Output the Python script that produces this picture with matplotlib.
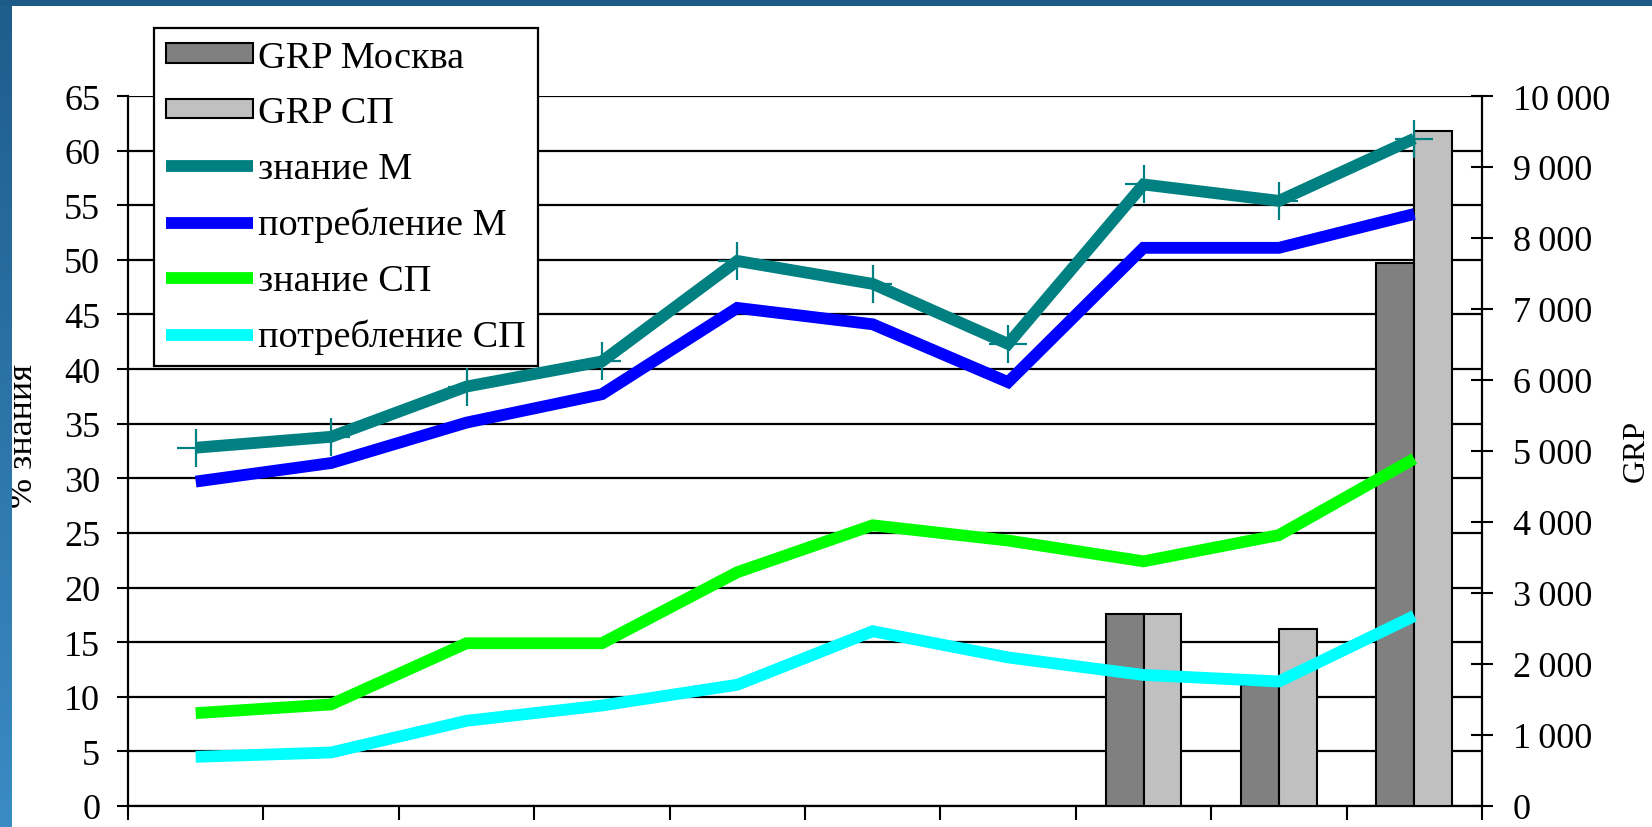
import numpy as np
import matplotlib
matplotlib.use("Agg")
import matplotlib.pyplot as plt
from matplotlib.patches import Patch
from matplotlib.lines import Line2D
from matplotlib.colors import LinearSegmentedColormap

# ---- data ----
periods = list(range(1, 11))
znanie_M = [32.8, 33.8, 38.4, 40.7, 49.9, 47.8, 42.3, 56.9, 55.4, 61.1]
potreb_M = [29.7, 31.4, 35.1, 37.7, 45.6, 44.1, 38.8, 51.1, 51.1, 54.2]
znanie_SP = [8.5, 9.3, 14.9, 14.9, 21.4, 25.7, 24.3, 22.4, 24.8, 31.8]
potreb_SP = [4.5, 4.9, 7.8, 9.2, 11.1, 16.0, 13.6, 12.0, 11.4, 17.4]
grp_M = [np.nan] * 7 + [2700, 1700, 7650]
grp_SP = [np.nan] * 7 + [2700, 2500, 9510]
left_ticks = list(range(0, 70, 5))
right_ticks = list(range(0, 11000, 1000))

series_labels = ["GRP Москва", "GRP СП", "знание М", "потребление М", "знание СП", "потребление СП"]

SERIF = ["Liberation Serif", "DejaVu Serif"]
plt.rcParams["font.family"] = SERIF

W, H = 1652, 828
fig = plt.figure(figsize=(W / 100, H / 100), dpi=100)
fig.patch.set_facecolor("white")

x0, x1, ytop, ybot = 128, 1482, 97, 807
pos = [x0 / W, 1 - ybot / H, (x1 - x0) / W, (ybot - ytop) / H]

ax = fig.add_axes(pos)              # gridlines + left axis
ax2 = ax.twinx()                     # bars, right axis
ax3 = ax.twinx()                     # lines, left scale
for a in (ax2, ax3):
    a.patch.set_visible(False)
ax.set_zorder(0)
ax2.set_zorder(1)
ax3.set_zorder(2)

x = np.arange(len(periods))
n = len(periods)

# left axis
ax.set_ylim(0, 65)
ax.set_xlim(-0.5, n - 0.5)
ax.set_yticks(left_ticks)
ax.set_yticklabels([str(v) for v in left_ticks], fontsize=26)
ax.yaxis.grid(True, color="black", lw=1.6)
ax.set_axisbelow(True)
ax.tick_params(axis="y", direction="out", length=8, width=1.5, pad=12, colors="black")
ax.set_xticks(np.arange(n + 1) - 0.5)
ax.set_xticklabels([])
ax.tick_params(axis="x", direction="out", length=10, width=1.5)
for s in ("top", "right"):
    ax.spines[s].set_visible(False)
for s in ("left", "bottom"):
    ax.spines[s].set_linewidth(1.6)

# bars
bw = 0.28
gm = np.array(grp_M, dtype=float)
gs = np.array(grp_SP, dtype=float)
mm = ~np.isnan(gm)
ms = ~np.isnan(gs)
ax2.bar(x[mm] - bw / 2, gm[mm], width=bw, color="#808080", edgecolor="black", linewidth=1.5)
ax2.bar(x[ms] + bw / 2, gs[ms], width=bw, color="#c0c0c0", edgecolor="black", linewidth=1.5)
ax2.set_ylim(0, 10000)
ax2.set_xlim(-0.5, n - 0.5)
ax2.set_yticks(right_ticks)
ax2.set_yticklabels([f"{v:,}".replace(",", "\u2009") for v in right_ticks], fontsize=26)
ax2.tick_params(axis="y", direction="inout", length=16, width=1.5, pad=14, colors="black")
for s in ("top", "left", "bottom"):
    ax2.spines[s].set_visible(False)
ax2.spines["right"].set_linewidth(1.6)

# lines
ax3.set_ylim(0, 65)
ax3.set_xlim(-0.5, n - 0.5)
ax3.set_yticks([])
for s in ax3.spines.values():
    s.set_visible(False)
lw = 8.5
ax3.plot(x, znanie_M, color="#008080", lw=lw, marker="+", markersize=28, mew=1.6,
         solid_capstyle="butt", solid_joinstyle="miter")
ax3.plot(x, potreb_M, color="#0000ff", lw=lw, solid_capstyle="butt", solid_joinstyle="miter")
ax3.plot(x, znanie_SP, color="#00ff00", lw=lw, solid_capstyle="butt", solid_joinstyle="miter")
ax3.plot(x, potreb_SP, color="#00ffff", lw=lw, solid_capstyle="butt", solid_joinstyle="miter")

# legend
handles = [
    Patch(facecolor="#808080", edgecolor="black", linewidth=1.5),
    Patch(facecolor="#c0c0c0", edgecolor="black", linewidth=1.5),
    Line2D([], [], color="#008080", lw=lw, solid_capstyle="butt"),
    Line2D([], [], color="#0000ff", lw=lw, solid_capstyle="butt"),
    Line2D([], [], color="#00ff00", lw=lw, solid_capstyle="butt"),
    Line2D([], [], color="#00ffff", lw=lw, solid_capstyle="butt"),
]
leg = ax3.legend(handles, series_labels, loc="upper left",
                 bbox_to_anchor=(154 / W, 1 - 29 / H), bbox_transform=fig.transFigure,
                 borderaxespad=0, fontsize=27.5, frameon=True, fancybox=False,
                 edgecolor="black", framealpha=1, facecolor="white",
                 handlelength=2.28, handleheight=0.4, handletextpad=0.12,
                 labelspacing=0.55, borderpad=0.32)
leg.get_frame().set_linewidth(1.6)

# axis titles
fig.text(24 / W, 1 - 436 / H, "% знания", rotation=90, ha="center", va="center", fontsize=26)
fig.text(1636 / W, 1 - 451 / H, "GRP", rotation=90, ha="center", va="center", fontsize=23)

# blue frame (top band and left gradient band)
top = fig.add_axes([0, 1 - 7 / H, 1, 7 / H])
top.set_facecolor("#1c5b88")
top.set_xticks([]); top.set_yticks([])
for s in top.spines.values():
    s.set_visible(False)
top.set_zorder(10)

band = fig.add_axes([0, 0, 12 / W, 1 - 7 / H])
grad = np.linspace(0, 1, 256).reshape(-1, 1)
cmap = LinearSegmentedColormap.from_list("b", ["#1e5d8c", "#3b8bc4"])
band.imshow(grad, aspect="auto", cmap=cmap, origin="upper", extent=[0, 1, 0, 1])
band.set_axis_off()
band.set_zorder(10)

fig.savefig("out.png", dpi=100)
